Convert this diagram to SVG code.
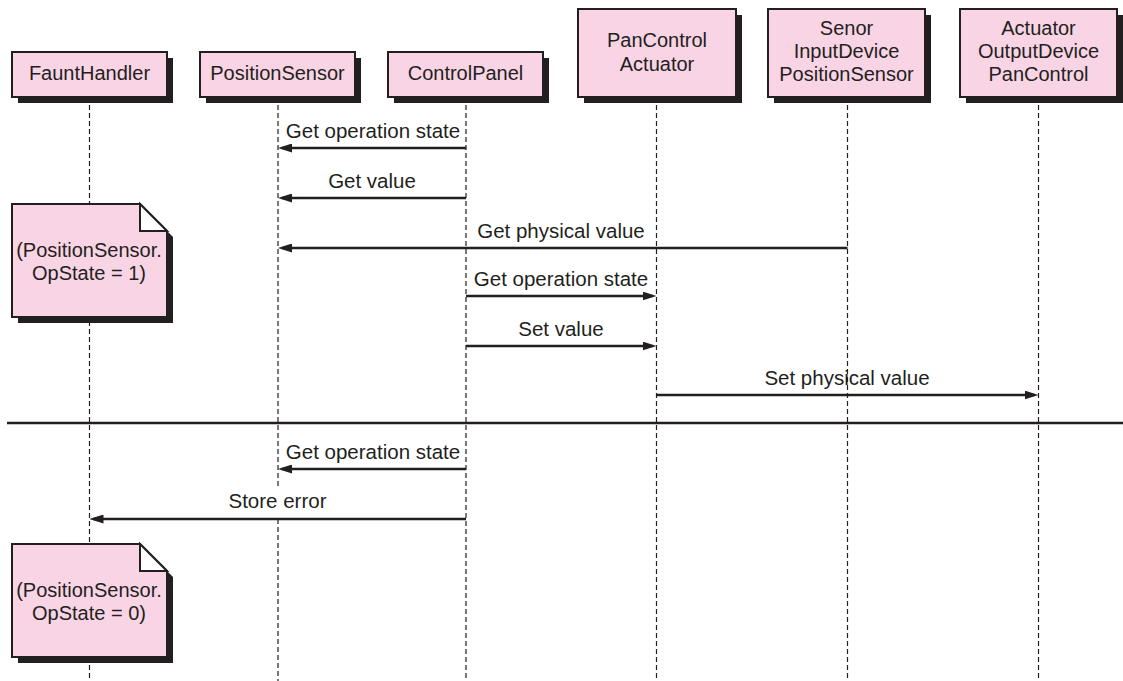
<svg xmlns="http://www.w3.org/2000/svg" width="1123" height="681" viewBox="0 0 1123 681">
<style>
.box{fill:#f9d4e5;stroke:#231f20;stroke-width:2}
.shadow{fill:#231f20}
.fold{fill:#ffffff;stroke:#231f20;stroke-width:2;stroke-linejoin:miter}
.life{stroke:#231f20;stroke-width:1.2;stroke-dasharray:5 3;fill:none}
.msg{stroke:#231f20;stroke-width:2.4;fill:none;marker-end:url(#ah)}
.sep{stroke:#231f20;stroke-width:2.5}
text{font-family:"Liberation Sans",Arial,sans-serif;fill:#231f20;text-anchor:middle}
.lbl{font-size:20px}
.mt{font-size:20.5px}
</style>
<defs>
<marker id="ah" markerWidth="14" markerHeight="9" refX="10" refY="4.5" orient="auto" markerUnits="userSpaceOnUse">
<path d="M0,0 L14,4.5 L0,9 Z" fill="#231f20"/>
</marker>
</defs>
<rect width="1123" height="681" fill="#ffffff"/>
<g id="lifelines">
<line class="life" x1="89.5" y1="97" x2="89.5" y2="681"/>
<line class="life" x1="278" y1="97" x2="278" y2="487"/>
<line class="life" x1="278" y1="519" x2="278" y2="681"/>
<line class="life" x1="466" y1="97" x2="466" y2="681"/>
<line class="life" x1="656.5" y1="97" x2="656.5" y2="681"/>
<line class="life" x1="847.5" y1="97" x2="847.5" y2="681"/>
<line class="life" x1="1038.5" y1="97" x2="1038.5" y2="681"/>
</g>
<g id="FauntHandler">
<rect class="shadow" x="18" y="58" width="155" height="45"/>
<rect class="box" x="12" y="52" width="155" height="45"/>
<text class="lbl" x="89.5" y="79.5">FauntHandler</text>
</g>
<g id="PositionSensor">
<rect class="shadow" x="206" y="58" width="155" height="45"/>
<rect class="box" x="200" y="52" width="155" height="45"/>
<text class="lbl" x="277.5" y="79.5">PositionSensor</text>
</g>
<g id="ControlPanel">
<rect class="shadow" x="394" y="58" width="155" height="45"/>
<rect class="box" x="388" y="52" width="155" height="45"/>
<text class="lbl" x="465.5" y="79.5">ControlPanel</text>
</g>
<g id="PanControlActuator">
<rect class="shadow" x="584" y="15" width="158" height="88"/>
<rect class="box" x="578" y="9" width="158" height="88"/>
<text class="lbl" x="657" y="47">PanControl</text>
<text class="lbl" x="657" y="71">Actuator</text>
</g>
<g id="SenorInputDevice">
<rect class="shadow" x="774" y="15" width="157" height="88"/>
<rect class="box" x="768" y="9" width="157" height="88"/>
<text class="lbl" x="846.5" y="35">Senor</text>
<text class="lbl" x="846.5" y="58">InputDevice</text>
<text class="lbl" x="846.5" y="81">PositionSensor</text>
</g>
<g id="ActuatorOutputDevice">
<rect class="shadow" x="966" y="15" width="157" height="88"/>
<rect class="box" x="960" y="9" width="157" height="88"/>
<text class="lbl" x="1038.5" y="35">Actuator</text>
<text class="lbl" x="1038.5" y="58">OutputDevice</text>
<text class="lbl" x="1038.5" y="81">PanControl</text>
</g>
<g id="note1">
<polygon class="shadow" points="18,210 146,210 173,237 173,323 18,323"/>
<polygon class="box" points="12,204 140,204 167,231 167,317 12,317"/>
<polygon class="fold" points="140,204 140,231 167,231"/>
<text class="lbl" x="89" y="257">(PositionSensor.</text>
<text class="lbl" x="89" y="280">OpState = 1)</text>
</g>
<g id="note2">
<polygon class="shadow" points="18,550 146,550 173,577 173,663 18,663"/>
<polygon class="box" points="12,544 140,544 167,571 167,657 12,657"/>
<polygon class="fold" points="140,544 140,571 167,571"/>
<text class="lbl" x="89" y="597">(PositionSensor.</text>
<text class="lbl" x="89" y="620">OpState = 0)</text>
</g>
<g id="connectors">
<line class="msg" x1="466" y1="148" x2="282" y2="148"/>
<text class="mt" x="373" y="138">Get operation state</text>
<line class="msg" x1="466" y1="198" x2="282" y2="198"/>
<text class="mt" x="372" y="188">Get value</text>
<line class="msg" x1="847.5" y1="248" x2="282" y2="248"/>
<text class="mt" x="561" y="238">Get physical value</text>
<line class="msg" x1="466" y1="296" x2="652.5" y2="296"/>
<text class="mt" x="561" y="286">Get operation state</text>
<line class="msg" x1="466" y1="346" x2="652.5" y2="346"/>
<text class="mt" x="561" y="336">Set value</text>
<line class="msg" x1="656.5" y1="395" x2="1034.5" y2="395"/>
<text class="mt" x="847" y="385">Set physical value</text>
<line class="sep" x1="7" y1="423" x2="1123" y2="423"/>
<line class="msg" x1="466" y1="469" x2="282" y2="469"/>
<text class="mt" x="373" y="459">Get operation state</text>
<line class="msg" x1="466" y1="519" x2="93.5" y2="519"/>
<text class="mt" x="277.5" y="508">Store error</text>
</g>
</svg>
